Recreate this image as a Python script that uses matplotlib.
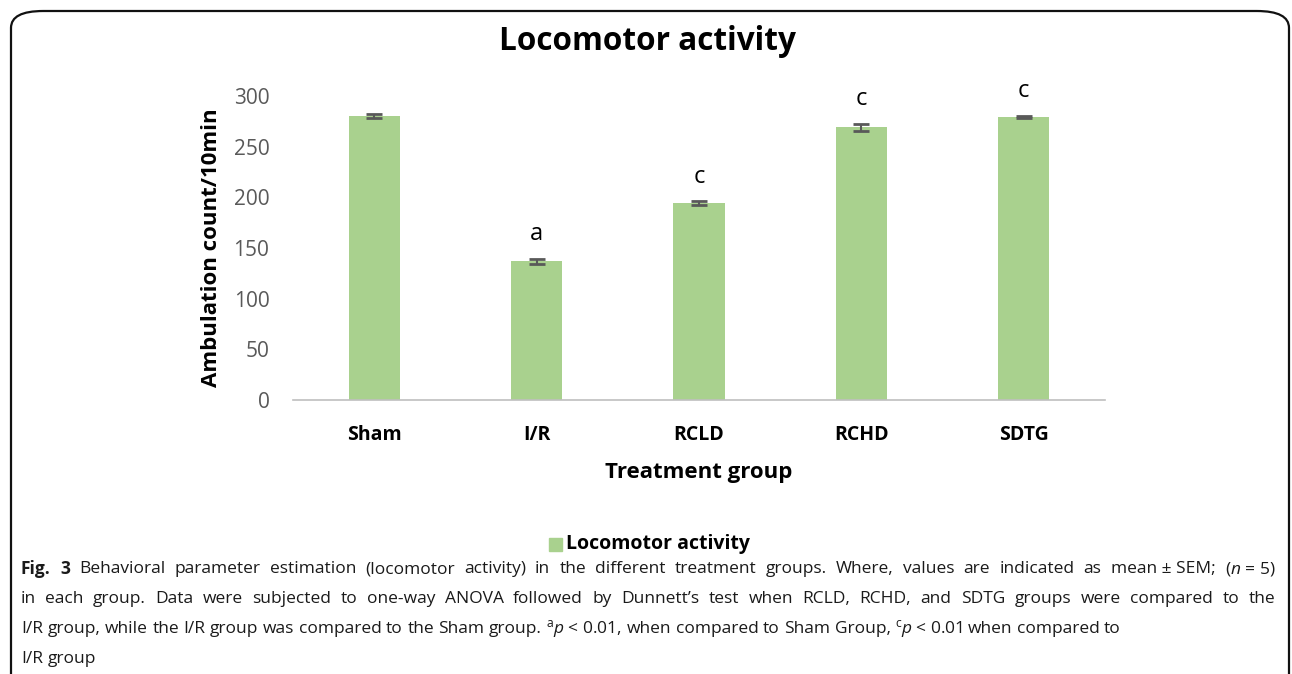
import matplotlib.pyplot as plt
from matplotlib.patches import FancyBboxPatch, Rectangle

plt.rcParams['font.family'] = ['Open Sans', 'DejaVu Sans']
plt.rcParams['mathtext.fontset'] = 'custom'
plt.rcParams['mathtext.rm'] = 'Open Sans'
plt.rcParams['mathtext.it'] = 'Open Sans:italic'
plt.rcParams['mathtext.bf'] = 'Open Sans:bold'

groups = ['Sham', 'I/R', 'RCLD', 'RCHD', 'SDTG']
activity = [280, 137, 194, 269, 279.5]
sem = [2, 2.5, 2, 3.5, 1.2]
sig = ['', 'a', 'c', 'c', 'c']
yticks = [0, 50, 100, 150, 200, 250, 300]

W, H = 1292, 674
fig = plt.figure(figsize=(W / 100, H / 100), dpi=100)

# rounded frame around the figure panel
frame = FancyBboxPatch((11 / W, -0.1), 1278 / W, 1 - 11 / H + 0.1,
                       boxstyle='round,pad=0,rounding_size=0.025',
                       transform=fig.transFigure, fill=False,
                       edgecolor='#111111', linewidth=1.6)
fig.patches.append(frame)

ax = fig.add_axes([293 / W, 1 - 400 / H, 812 / W, 304 / H])
x = list(range(len(groups)))
ax.bar(x, activity, width=0.315, color='#A9D18E')
ax.errorbar(x, activity, yerr=sem, fmt='none', ecolor='#595959',
            elinewidth=1.5, capsize=6, capthick=2)
for i in x:
    if sig[i]:
        ax.annotate(sig[i], (i, activity[i] + sem[i]), xytext=(0, 9),
                    textcoords='offset points', ha='center', va='bottom',
                    fontsize=17, annotation_clip=False)

ax.set_xlim(-0.5, 4.5)
ax.set_ylim(0, 300)
ax.set_yticks(yticks)
ax.set_xticks(x)
ax.set_xticklabels(groups, fontweight='bold', fontsize=14)
ax.tick_params(axis='y', length=0, pad=17, labelsize=15, labelcolor='#595959')
ax.tick_params(axis='x', length=0, pad=18)
for s in ['top', 'right', 'left']:
    ax.spines[s].set_visible(False)
ax.spines['bottom'].set_color('#BFBFBF')
ax.spines['bottom'].set_linewidth(1.2)

ax.set_ylabel('Ambulation count/10min', fontsize=16, fontweight='bold', labelpad=8)
ax.set_xlabel('Treatment group', fontsize=16, fontweight='bold', labelpad=12)
fig.text(647 / W, 1 - 42 / H, 'Locomotor activity', ha='center', va='center',
         fontsize=22.7, fontweight='bold')

# legend
fig.patches.append(Rectangle((549 / W, 1 - 551 / H), 13 / W, 13 / H,
                             transform=fig.transFigure, color='#A9D18E'))
fig.text(566 / W, 1 - 544 / H, 'Locomotor activity', ha='left', va='center',
         fontsize=14, fontweight='bold')

# '~' keeps words together (no justification stretch there)
caption = [
    r'Fig. 3 Behavioral parameter estimation (locomotor activity) in the different treatment groups. Where, values are indicated as mean~±~SEM; ($\mathit{n}$~=~5)',
    'in each group. Data were subjected to one-way ANOVA followed by Dunnett\u2019s test when RCLD, RCHD, and SDTG groups were compared to the',
    r'I/R group, while the I/R group was compared to the Sham group. $^{\mathrm{a}}\mathit{p}$~<~0.01, when compared to Sham Group, $^{\mathrm{c}}\mathit{p}$~<~0.01 when compared to',
    'I/R group',
]
justify = [True, True, False, False]
fs = 12.5
left, right = 21, 1275
renderer = fig.canvas.get_renderer()
probe = fig.text(0, 0, 'a a', fontsize=fs)
probe1 = fig.text(0, 0, 'aa', fontsize=fs)
space = probe.get_window_extent(renderer).width - probe1.get_window_extent(renderer).width
probe.remove()
probe1.remove()
for k, line in enumerate(caption):
    y = 1 - (569 + 30 * k) / H
    words = [w.replace('~', ' ') for w in line.split(' ')]
    texts = []
    for j, w in enumerate(words):
        bold = (k == 0 and j < 2)
        t = fig.text(0, y, w, ha='left', va='center', fontsize=fs,
                     color='#1a1a1a', fontweight='bold' if bold else 'normal')
        texts.append(t)
    widths = [t.get_window_extent(renderer).width for t in texts]
    if justify[k]:
        gap = (right - left - sum(widths)) / (len(words) - 1)
    else:
        gap = space
    pos = left
    for t, w in zip(texts, widths):
        t.set_x(pos / W)
        pos += w + gap

fig.savefig('out.png', dpi=100)
